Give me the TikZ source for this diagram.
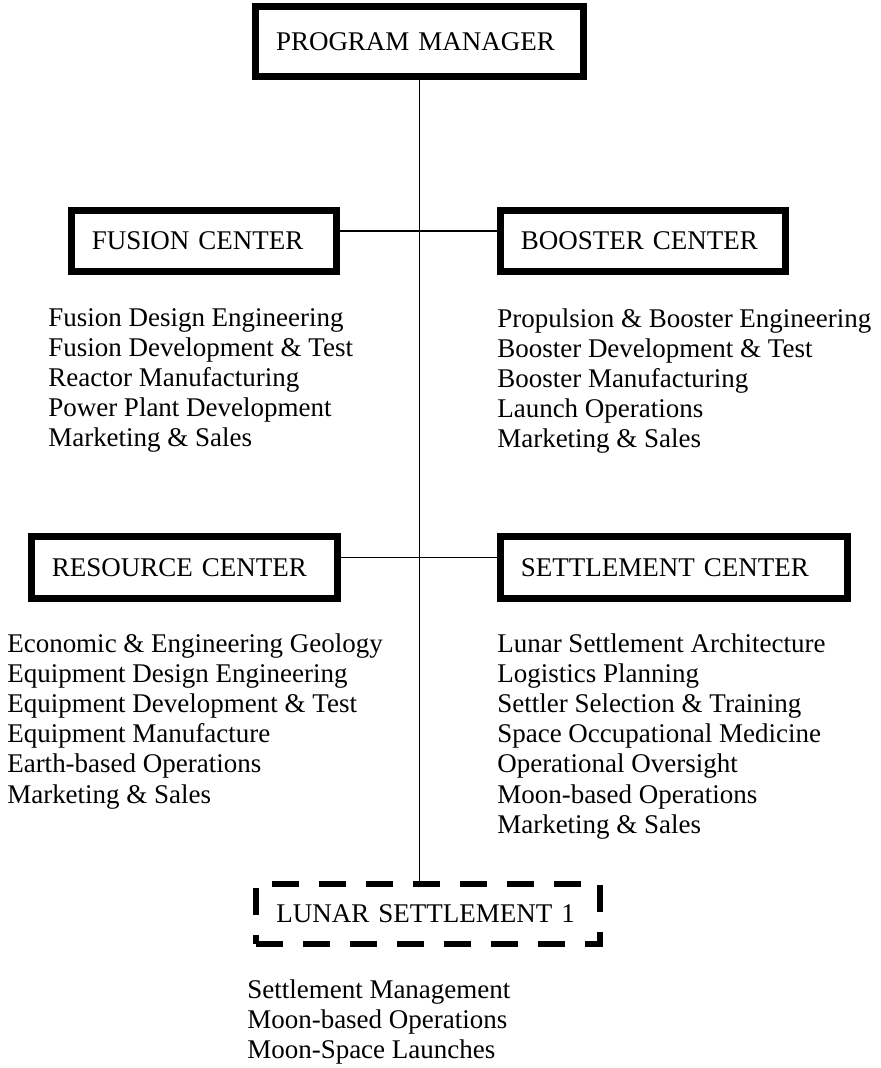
\documentclass[tikz,border=0pt]{standalone}
\usepackage{fontspec}
\setmainfont{Liberation Serif}
\usepackage{tikz}
\newcommand{\orgfont}{\fontsize{19.2}{21.4}\selectfont}
\tikzset{
    centerbox/.style={rectangle, draw=black, line width=5pt, fill=white, align=left, inner xsep=0.51cm, inner ysep=0pt, font=\orgfont},
    settlebox/.style={centerbox, line width=4.25pt, dash pattern=on 0.675cm off 0.5cm},
    duties/.style={anchor=north west, align=left, inner sep=0pt, font=\orgfont},
    link/.style={line width=1.1pt, black}
}

\begin{document}
\begin{tikzpicture}
    \useasboundingbox (0,0) rectangle (22.025,-26.7);

    % Program manager
    \node[centerbox, text width=7.18cm, minimum height=1.75cm] (manager) at (10.49, -1.04) {PROGRAM MANAGER};

    % Centers
    \node[centerbox, text width=5.605cm, minimum height=1.525cm] (fusion) at (5.1, -6.025) {FUSION CENTER};
    \node[centerbox, text width=6.105cm, minimum height=1.525cm] (booster) at (16.075, -6.025) {BOOSTER CENTER};
    \node[centerbox, text width=6.63cm, minimum height=1.55cm] (resource) at (4.6125, -14.19) {RESOURCE CENTER};
    \node[centerbox, text width=7.655cm, minimum height=1.55cm] (settlement) at (16.85, -14.19) {SETTLEMENT CENTER};

    % Settlement on the Moon
    \node[settlebox, text width=7.58cm, minimum height=1.5cm] (lunar) at (10.7, -22.85) {LUNAR SETTLEMENT 1};

    % Duties
    \node[duties] (fusionduties) at (1.2, -7.71) {Fusion Design Engineering\\Fusion Development \& Test\\Reactor Manufacturing\\Power Plant Development\\Marketing \& Sales};
    \node[duties] (boosterduties) at (12.425, -7.71) {Propulsion \& Booster Engineering\\Booster Development \& Test\\Booster Manufacturing\\Launch Operations\\Marketing \& Sales};
    \node[duties] (resourceduties) at (0.175, -15.84) {Economic \& Engineering Geology\\Equipment Design Engineering\\Equipment Development \& Test\\Equipment Manufacture\\Earth-based Operations\\Marketing \& Sales};
    \node[duties] (settlementduties) at (12.425, -15.84) {Lunar Settlement Architecture\\Logistics Planning\\Settler Selection \& Training\\Space Occupational Medicine\\Operational Oversight\\Moon-based Operations\\Marketing \& Sales};
    \node[duties] (lunarduties) at (6.175, -24.49) {Settlement Management\\Moon-based Operations\\Moon-Space Launches};

    % Connectors
    \draw[link] (manager.south) -- (manager.south |- lunar.north);
    \draw[link] ([yshift=0.25cm]fusion.east) -- ([yshift=0.25cm]booster.west);
    \draw[link] ([yshift=0.25cm]resource.east) -- ([yshift=0.25cm]settlement.west);
\end{tikzpicture}
\end{document}
